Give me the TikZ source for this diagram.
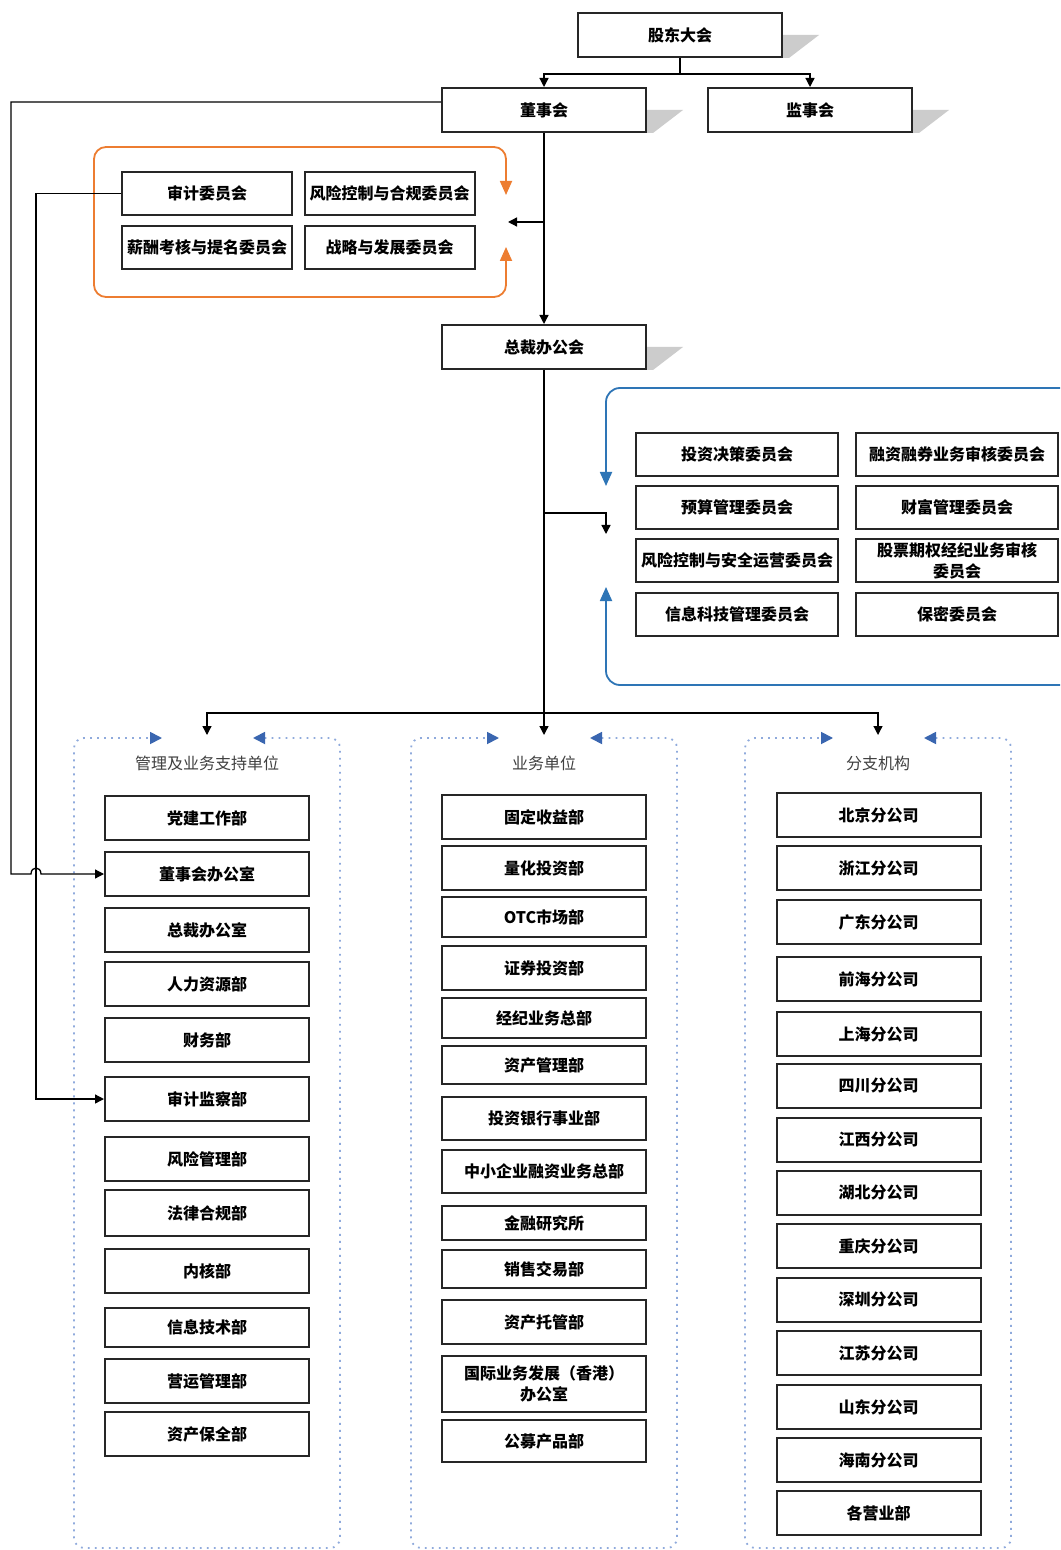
\documentclass[tikz,border=0pt]{standalone}
\usepackage{fontspec}
\setmainfont{Noto Sans CJK SC}[BoldFont={Noto Sans CJK SC Black}]
\usetikzlibrary{arrows.meta}
\definecolor{orgline}{HTML}{ED7D31}
\definecolor{blueline}{HTML}{2E75B6}
\definecolor{dotblue}{HTML}{8FAADC}
\definecolor{tipblue}{HTML}{3A66B0}
\tikzset{
  unit/.style={draw=black!85,line width=1pt,fill=white,inner sep=1pt,align=center,
    font=\bfseries\fontsize{8}{10.5}\selectfont,minimum width=102pt,minimum height=22pt},
  link/.style={line width=0.65pt,-{Triangle[length=4.5pt,width=4.5pt]}},
  bigtips/.style={{Triangle[length=7pt,width=6pt]}-{Triangle[length=7pt,width=6pt]}},
  colframe/.style={dotblue,line width=0.9pt,dash pattern=on 0.9pt off 2.6pt,rounded corners=5pt,
    {Triangle[length=6pt,width=6pt,color=tipblue]}-{Triangle[length=6pt,width=6pt,color=tipblue]}}
}
\begin{document}
\begin{tikzpicture}[x=0.5pt,y=-0.5pt]
\useasboundingbox[fill=white] (0,0) rectangle (1060,1550);
\clip (0,0) rectangle (1060,1550);
% top of the chart
\node[unit] (gd) at (680,35) {股东大会};
\node[unit] (dsh) at (544,110) {董事会};
\node[unit] (jsh) at (810,110) {监事会};
\node[unit] (zcbg) at (544,347) {总裁办公会};
\foreach \n in {gd,dsh,jsh,zcbg}
  \fill[black!20] (\n.east) -- ++(36,0) -- ([xshift=3pt]\n.south east) -- (\n.south east) -- cycle;
\draw[link] (gd.south) -- ++(0,16) -| (dsh.north);
\draw[link] (gd.south) -- ++(0,16) -| (jsh.north);
% board committees
\node[unit,minimum width=85pt,minimum height=21.5pt] (sjwy) at (207,193.5) {审计委员会};
\node[unit,minimum width=85pt,minimum height=21.5pt] (fkwy) at (389.5,193.5) {风险控制与合规委员会};
\node[unit,minimum width=85pt,minimum height=21.5pt] (xcwy) at (207,247.5) {薪酬考核与提名委员会};
\node[unit,minimum width=85pt,minimum height=21.5pt] (zlwy) at (389.5,247.5) {战略与发展委员会};
\draw[orgline,line width=0.9pt,rounded corners=6pt,bigtips] (506,195) -- (506,147) -- (94,147) -- (94,297) -- (506,297) -- (506,247);
\coordinate (ogap) at (508,222);
\draw[link] (dsh.south) -- (zcbg.north);
\draw[link] (dsh.south |- ogap) -- (ogap);
% executive committees
\foreach \y/\a/\b [count=\i] in {454.5/投资决策委员会/融资融券业务审核委员会,
    507.5/预算管理委员会/财富管理委员会,
    560.5/风险控制与安全运营委员会/{股票期权经纪业务审核\\委员会},
    614.5/信息科技管理委员会/保密委员会}{
  \node[unit,minimum width=101pt,minimum height=21.5pt] (ca\i) at (737,\y) {\a};
  \node[unit,minimum width=101pt,minimum height=21.5pt] (cb\i) at (957,\y) {\b};
}
\draw[blueline,line width=0.9pt,rounded corners=7pt,bigtips] (606,486) -- (606,388) -- (1090,388) -- (1090,685) -- (606,685) -- (606,587);
\coordinate (bbr) at (544,513);
\coordinate (bgap) at (606,534);
\draw[link] (bbr) -| (bgap);
% three groups
\coordinate (split) at (544,713);
\coordinate (hl) at (207,735);
\coordinate (hm) at (544,735);
\coordinate (hr) at (878,735);
\draw[line width=0.65pt] (zcbg.south) -- (split);
\draw[link] (split) -| (hl);
\draw[link] (split) -- (hm);
\draw[link] (split) -| (hr);
\foreach \cx/\t [count=\i] in {207/管理及业务支持单位,544/业务单位,878/分支机构}{
  \draw[colframe] (\cx+46,738) -- (\cx+133,738) -- (\cx+133,1548) -- (\cx-133,1548) -- (\cx-133,738) -- (\cx-45,738);
  \node[font=\fontsize{8}{10}\selectfont,text=black!75] (hd\i) at (\cx,763) {\t};
}
\foreach \y/\h/\t [count=\i] in {818/44/党建工作部,874/44/董事会办公室,930/44/总裁办公室,
    984/44/人力资源部,1040/44/财务部,1099/44/审计监察部,1159/44/风险管理部,
    1213/46/法律合规部,1271/44/内核部,1327.5/39/信息技术部,1381/44/营运管理部,1434/44/资产保全部}
  \node[unit,minimum height=\h*0.5pt] (l\i) at (207,\y) {\t};
\foreach \y/\h/\t [count=\i] in {817/44/固定收益部,868/44/量化投资部,917/40/OTC市场部,
    968/44/证券投资部,1018/40/经纪业务总部,1065/38/资产管理部,1118.5/43/投资银行事业部,
    1171.5/43/中小企业融资业务总部,1223/34/金融研究所,1269/38/销售交易部,1322/44/资产托管部,
    1384/56/{国际业务发展（香港）\\办公室},1441/42/公募产品部}
  \node[unit,minimum height=\h*0.5pt] (m\i) at (544,\y) {\t};
\foreach \y/\t [count=\i] in {815/北京分公司,868/浙江分公司,922/广东分公司,979/前海分公司,
    1034/上海分公司,1086/四川分公司,1140/江西分公司,1193/湖北分公司,1246/重庆分公司,
    1300/深圳分公司,1353/江苏分公司,1407/山东分公司,1460/海南分公司,1513/各营业部}
  \node[unit] (r\i) at (878.5,\y) {\t};
% lines into the support units
\draw[link] ([yshift=4pt]dsh.west) -| (11,874) -- (31,874) .. controls (31,866) and (41,866) .. (41,874) -- (l2.west);
\draw[link] (sjwy.west) -| (36,1099) -- (l6.west);
\end{tikzpicture}
\end{document}
